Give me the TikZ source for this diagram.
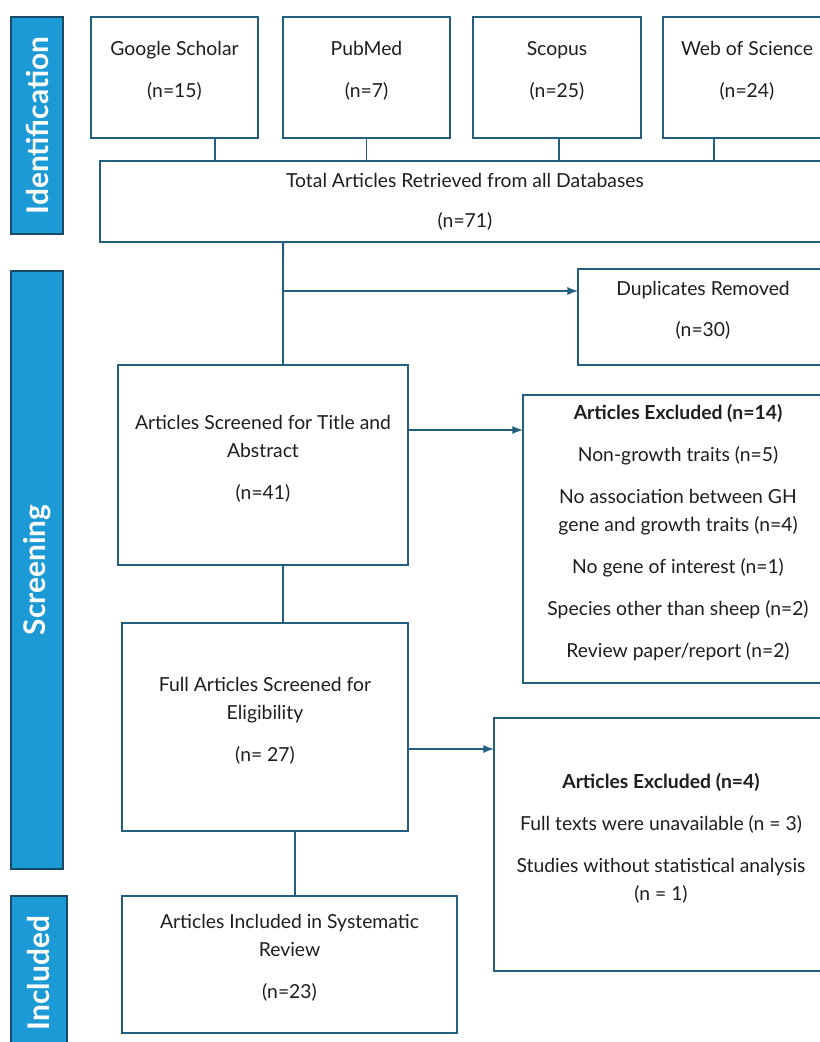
\documentclass[tikz,border=0pt]{standalone}
\usepackage{fontspec}
\setmainfont{Lato}
\usetikzlibrary{arrows,positioning}

\definecolor{boxline}{HTML}{23607F}
\definecolor{sidefill}{HTML}{1B9AD6}
\definecolor{sideline}{HTML}{1A4A66}
\definecolor{txt}{HTML}{1E1E1E}

\newcommand{\bxfont}{\fontsize{11}{15.9}\selectfont}
\newcommand{\pgap}{\\[8pt]}

\tikzset{
  box/.style={draw=boxline, line width=1.1pt, fill=white, rectangle, inner sep=0pt,
    outer sep=0pt, align=center, text=txt, font=\bxfont},
  lifted/.style={text depth=9pt},
  side/.style={draw=sideline, line width=1.1pt, fill=sidefill, rectangle, inner sep=0pt,
    outer sep=0pt, text=white, font=\fontsize{17}{20}\selectfont\bfseries, rotate=90,
    minimum height=1.04cm},
  link/.style={draw=boxline, line width=1.1pt},
  arr/.style={link, -latex}
}

\begin{document}
\begin{tikzpicture}[x=0.02cm, y=-0.02cm]

      \useasboundingbox (0,0) rectangle (820,1042);
      \clip (0,0) rectangle (820,1042);

      % phase bars
      \node[side, minimum width=4.34cm] (sideid) at (37,125.5) {Identification};
      \node[side, minimum width=11.96cm] (sidescr) at (37,570) {Screening};
      \node[side, minimum width=3.08cm, minimum height=1.12cm] (sideinc) at (39,973) {Included};

      % databases
      \node[box, lifted, minimum width=3.34cm, minimum height=2.42cm] (gs) at (174.5,77.5) {Google Scholar\pgap (n=15)};
      \node[box, lifted, minimum width=3.34cm, minimum height=2.42cm] (pm) at (366.5,77.5) {PubMed\pgap (n=7)};
      \node[box, lifted, minimum width=3.36cm, minimum height=2.42cm] (sc) at (557,77.5) {Scopus\pgap (n=25)};
      \node[box, lifted, minimum width=3.36cm, minimum height=2.42cm] (ws) at (747,77.5) {Web of Science\pgap (n=24)};

      \node[box, minimum width=14.6cm, minimum height=1.62cm] (total) at (465,201.5)
        {Total Articles Retrieved from all Databases\\[7pt] (n=71)};

      \node[box, lifted, minimum width=5cm, minimum height=1.92cm] (dup) at (703,317) {Duplicates Removed\\[7.5pt] (n=30)};

      % screening
      \node[box, lifted, minimum width=5.8cm, minimum height=4cm] (scr) at (263,465)
        {Articles Screened for Title and\\ Abstract\pgap (n=41)};
      \node[box, lifted, minimum width=6.2cm, minimum height=5.76cm] (exa) at (678,539)
        {\textbf{Articles Excluded (n=14)}\pgap Non-growth traits (n=5)\pgap
         No association between GH\\ gene and growth traits (n=4)\pgap
         No gene of interest (n=1)\pgap Species other than sheep (n=2)\pgap
         Review paper/report (n=2)};

      \node[box, lifted, minimum width=5.72cm, minimum height=4.16cm] (full) at (265,727)
        {Full Articles Screened for\\ Eligibility\pgap (n= 27)};
      \node[box, lifted, minimum width=6.68cm, minimum height=5.06cm] (exb) at (661,844.5)
        {\textbf{Articles Excluded (n=4)}\pgap Full texts were unavailable (n = 3)\pgap
         Studies without statistical analysis\\ (n = 1)};

      % included
      \node[box, lifted, minimum width=6.7cm, minimum height=2.74cm] (inc) at (289.5,964.5)
        {Articles Included in Systematic\\ Review\pgap (n=23)};

      % connectors
      \draw[link] ([xshift=0.81cm]gs.south) -- ([xshift=0.81cm]gs.south |- total.north);
      \draw[link] (pm.south) -- (pm.south |- total.north);
      \draw[link] ([xshift=0.04cm]sc.south) -- ([xshift=0.04cm]sc.south |- total.north);
      \draw[link] ([xshift=-0.66cm]ws.south) -- ([xshift=-0.66cm]ws.south |- total.north);

      \draw[link] ([xshift=-3.64cm]total.south) -- ([xshift=0.4cm]scr.north);
      \coordinate (split) at (283,291);
      \draw[arr] (split) -- (split -| dup.west);

      \draw[arr] ([yshift=0.7cm]scr.east) -- ([yshift=0.7cm]scr.east -| exa.west);
      \draw[link] ([xshift=0.4cm]scr.south) -- ([xshift=0.36cm]full.north);
      \draw[arr] ([yshift=-0.44cm]full.east) -- ([yshift=-0.44cm]full.east -| exb.west);
      \draw[link] ([xshift=0.6cm]full.south) -- ([xshift=0.11cm]inc.north);

    \end{tikzpicture}
\end{document}
